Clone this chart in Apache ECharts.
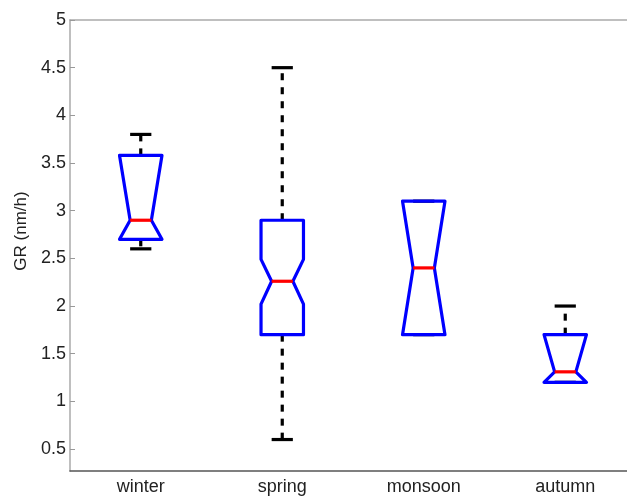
<!DOCTYPE html>
<html>
<head>
<meta charset="utf-8">
<script src="https://cdn.jsdelivr.net/npm/echarts@6/dist/echarts.min.js"></script>
<style>html,body{margin:0;padding:0;background:#fff;}#c{width:627px;height:496px;}</style>
</head>
<body>
<div id="c"></div>
<script>
const categories = ['winter', 'spring', 'monsoon', 'autumn'];
const whiskerLow  = [2.6, 0.6, 1.7, 1.2];
const q1          = [2.7, 1.7, 1.7, 1.2];
const notchLow    = [2.7, 2.02, 1.7, 1.2];
const median      = [2.9, 2.26, 2.4, 1.31];
const notchHigh   = [3.58, 2.49, 3.1, 1.7];
const q3          = [3.58, 2.9, 3.1, 1.7];
const whiskerHigh = [3.8, 4.5, 3.1, 2.0];
const yTicks = [0.5, 1, 1.5, 2, 2.5, 3, 3.5, 4, 4.5, 5];

const data = categories.map((c, i) => [i, whiskerLow[i], q1[i], notchLow[i], median[i], notchHigh[i], q3[i], whiskerHigh[i]]);

const font = 'Liberation Sans, Arial, sans-serif';
const chart = echarts.init(document.getElementById('c'));

function renderItem(params, api) {
  const xi = api.value(0);
  const wl = api.value(1), a = api.value(2), nl = api.value(3), md = api.value(4),
        nh = api.value(5), b = api.value(6), wh = api.value(7);
  const cx = api.coord([xi, md])[0];
  const y = v => api.coord([xi, v])[1];
  const hw = api.size([1, 0])[0] * 0.15;
  const n = hw / 2;
  const black = { stroke: '#000', lineWidth: 3.2, fill: null };
  const dashed = { stroke: '#000', lineWidth: 3.2, lineDash: [7, 7], fill: null };
  const children = [];
  if (wh > b) children.push({ type: 'line', shape: { x1: cx, y1: y(b), x2: cx, y2: y(wh) }, style: dashed });
  if (wl < a) children.push({ type: 'line', shape: { x1: cx, y1: y(a), x2: cx, y2: y(wl) }, style: dashed });
  children.push({ type: 'line', shape: { x1: cx - n, y1: y(wh), x2: cx + n, y2: y(wh) }, style: black });
  children.push({ type: 'line', shape: { x1: cx - n, y1: y(wl), x2: cx + n, y2: y(wl) }, style: black });
  const pts = [
    [cx - hw, y(a)], [cx - hw, y(nl)], [cx - n, y(md)], [cx - hw, y(nh)], [cx - hw, y(b)],
    [cx + hw, y(b)], [cx + hw, y(nh)], [cx + n, y(md)], [cx + hw, y(nl)], [cx + hw, y(a)]
  ];
  children.push({ type: 'polygon', shape: { points: pts }, style: { stroke: '#0000ff', lineWidth: 3.2, fill: null, lineJoin: 'round' } });
  children.push({ type: 'line', shape: { x1: cx - n, y1: y(md), x2: cx + n, y2: y(md) }, style: { stroke: '#ff0000', lineWidth: 3.2 } });
  return { type: 'group', children };
}

chart.setOption({
  animation: false,
  backgroundColor: '#fff',
  grid: { left: 70, width: 566, top: 20, height: 451, containLabel: false, outerBoundsMode: 'none' },
  xAxis: [{
    type: 'category', data: categories, position: 'bottom',
    axisLine: { lineStyle: { color: '#555', width: 1.5 } },
    axisTick: { inside: true, alignWithLabel: true, length: 6, lineStyle: { color: '#888' } },
    axisLabel: { color: '#222', fontFamily: font, fontSize: 18, margin: 7 },
    splitLine: { show: false }
  }, {
    type: 'category', data: categories, position: 'top',
    axisLine: { lineStyle: { color: '#aaa', width: 1.5 } },
    axisTick: { inside: true, alignWithLabel: true, length: 6, lineStyle: { color: '#888' } },
    axisLabel: { show: false },
    splitLine: { show: false }
  }],
  yAxis: {
    type: 'value', min: 0.27, max: 5,
    axisLine: { show: true, lineStyle: { color: '#aaa', width: 1.5 } },
    axisTick: { show: true, inside: true, length: 5, customValues: yTicks, lineStyle: { color: '#999' } },
    axisLabel: { customValues: yTicks, color: '#222', fontFamily: font, fontSize: 18, margin: 4 },
    splitLine: { show: false }
  },
  graphic: [{
    type: 'text', x: 21, y: 231, rotation: Math.PI / 2,
    style: { text: 'GR (nm/h)', font: '17px ' + font, fill: '#222', textAlign: 'center', textVerticalAlign: 'middle' }
  }],
  series: [{
    type: 'custom', renderItem, data,
    encode: { x: 0, y: [1, 2, 3, 4, 5, 6, 7] },
    clip: false
  }]
});
</script>
</body>
</html>
